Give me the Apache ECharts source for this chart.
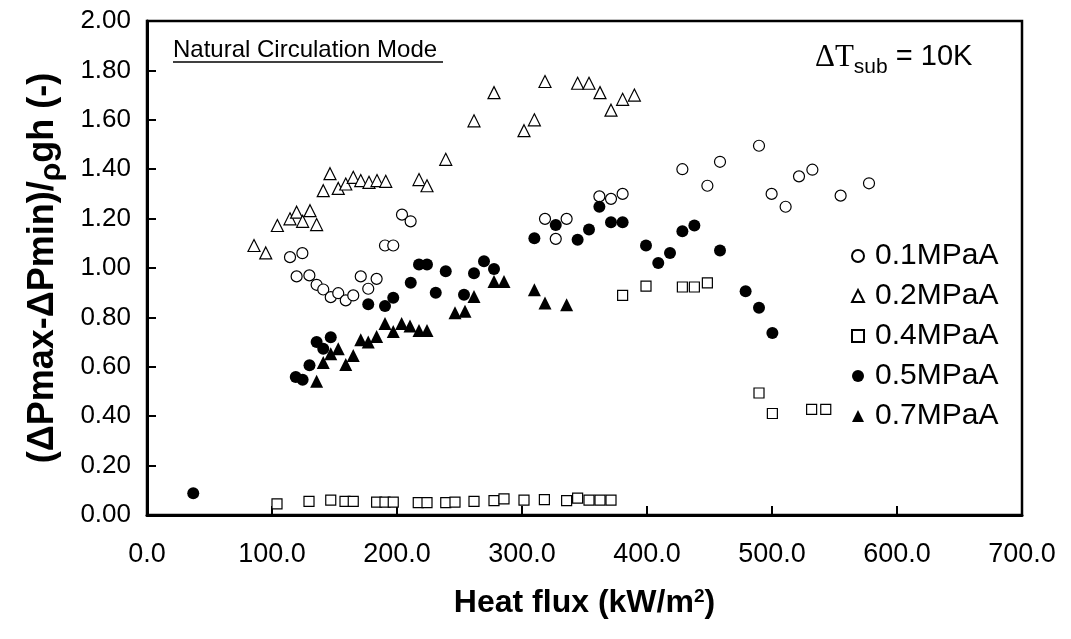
<!DOCTYPE html>
<html>
<head>
<meta charset="utf-8">
<script src="https://cdn.jsdelivr.net/npm/echarts@6/dist/echarts.min.js"></script>
<style>
  html, body { margin: 0; background: #fff; }
  #chart { width: 1071px; height: 639px; }
</style>
</head>
<body>
<div id="chart"></div>
<script>
// heat flux (kW/m2), (dPmax-dPmin)/rho g h
const p01 = [
  [114.4, 1.044], [124.3, 1.06], [119.7, 0.966], [129.9, 0.97], [135.7, 0.932], [141, 0.913],
  [147, 0.882], [153, 0.898], [159, 0.869], [165, 0.889], [171, 0.966], [177, 0.916],
  [183.7, 0.956], [190.4, 1.091], [197, 1.091], [204, 1.216], [210.9, 1.189], [318.4, 1.199],
  [335.7, 1.199], [327, 1.118], [361.9, 1.29], [371.2, 1.28], [380.5, 1.3], [428.3, 1.4],
  [448.3, 1.333], [458.4, 1.43], [489.6, 1.495], [499.7, 1.3], [510.9, 1.248], [521.6, 1.371],
  [532.3, 1.398], [554.9, 1.293], [577.6, 1.343]
]
const p02 = [
  [85.6, 1.091], [95, 1.061], [104.3, 1.172], [114.4, 1.199], [119.7, 1.226], [124.5, 1.189],
  [130.4, 1.232], [135.7, 1.176], [141, 1.313], [146.4, 1.382], [153, 1.322], [159, 1.34],
  [165, 1.367], [171, 1.354], [177.6, 1.347], [184, 1.354], [191, 1.351], [217.6, 1.358],
  [224, 1.333], [239, 1.44], [261.6, 1.596], [277.6, 1.71], [301.6, 1.556], [309.9, 1.6],
  [318.4, 1.755], [344.5, 1.748], [353.6, 1.748], [362.4, 1.71], [371.2, 1.639], [380.5, 1.683],
  [389.9, 1.7]
]
const p04 = [
  [104, 0.045], [129.6, 0.055], [147, 0.06], [158.4, 0.055], [165, 0.055], [183.7, 0.052],
  [190.4, 0.052], [197, 0.052], [217, 0.05], [224, 0.05], [239, 0.05], [246.4, 0.052],
  [261.6, 0.055], [277.6, 0.058], [285.6, 0.065], [301.6, 0.06], [317.9, 0.062], [335.7, 0.058],
  [344.5, 0.068], [353.6, 0.06], [362.4, 0.06], [371.2, 0.06],
  [380.5, 0.889], [399.2, 0.927], [428.3, 0.923], [437.9, 0.923], [448.3, 0.94],
  [489.6, 0.494], [500.3, 0.411], [531.7, 0.428], [543, 0.428]
]
const p05 = [
  [37, 0.088], [119, 0.559], [124.5, 0.548], [130, 0.606], [135.7, 0.7], [141, 0.673],
  [147, 0.72], [177, 0.853], [190.4, 0.846], [197, 0.88], [211, 0.94], [217.6, 1.014],
  [224, 1.014], [231, 0.9], [239, 0.987], [253.6, 0.892], [261.6, 0.979], [269.6, 1.027],
  [277.6, 0.996], [309.9, 1.12], [327, 1.174], [344.5, 1.114], [353.6, 1.156], [361.9, 1.248],
  [371.2, 1.185], [380.5, 1.185], [399.2, 1.091], [409, 1.02], [418.4, 1.061], [428.3, 1.149],
  [437.9, 1.172], [458.4, 1.071], [478.9, 0.906], [489.6, 0.839], [500.3, 0.737]
]
const p07 = [
  [135.7, 0.541], [141, 0.617], [147, 0.653], [153, 0.673], [159, 0.609], [165, 0.646],
  [171, 0.71], [177, 0.7], [183.7, 0.723], [190.4, 0.775], [197, 0.743], [203.7, 0.775],
  [210.4, 0.765], [217.6, 0.747], [224, 0.747], [246.4, 0.819], [254.4, 0.825], [261.6, 0.885],
  [277.6, 0.945], [285.6, 0.945], [309.9, 0.912], [318.4, 0.858], [335.7, 0.851]
]

const seriesNames = ['0.1MPaA', '0.2MPaA', '0.4MPaA', '0.5MPaA', '0.7MPaA']

const font = '"Liberation Sans", Arial, Helvetica, sans-serif'
const open = { color: '#fff', borderColor: '#000', borderWidth: 1.2, opacity: 1 }
const filled = { color: '#000', opacity: 1 }

const chart = echarts.init(document.getElementById('chart'))

chart.setOption({
  animation: false,
  textStyle: { fontFamily: font, color: '#000' },
  grid: {
    left: 147, right: 49, top: 21, bottom: 124,
    show: true, borderColor: '#000', borderWidth: 2.5
  },
  legend: {
    orient: 'vertical',
    left: 846,
    top: 236,
    itemWidth: 12,
    itemHeight: 12,
    itemGap: 10,
    data: seriesNames,
    textStyle: { fontFamily: font, fontSize: 30, color: '#000', lineHeight: 30, padding: [0, 0, 0, 6] }
  },
  xAxis: {
    type: 'value',
    min: 0, max: 700, interval: 100,
    name: '{a|Heat flux (kW/m}{s|2}{a|)}',
    nameLocation: 'middle',
    nameGap: 72,
    nameTextStyle: {
      rich: {
        a: { fontFamily: font, fontSize: 32, fontWeight: 'bold', color: '#000', lineHeight: 36, verticalAlign: 'top' },
        s: { fontFamily: font, fontSize: 19, fontWeight: 'bold', color: '#000', lineHeight: 19, verticalAlign: 'top' }
      }
    },
    axisLine: { onZero: false, lineStyle: { color: '#000', width: 3 } },
    axisTick: { inside: true, length: 9, lineStyle: { color: '#000', width: 2 } },
    splitLine: { show: false },
    axisLabel: {
      margin: 26, fontSize: 27, color: '#000', fontFamily: font,
      formatter: v => v.toFixed(1)
    }
  },
  yAxis: {
    type: 'value',
    min: 0, max: 2, interval: 0.2,
    name: '{a|(ΔPmax-ΔPmin)/}{r|ρ}{a|gh (-)}',
    nameLocation: 'middle',
    nameGap: 82,
    nameTextStyle: {
      rich: {
        a: { fontFamily: font, fontSize: 36, fontWeight: 'bold', color: '#000', lineHeight: 40, verticalAlign: 'top' },
        r: { fontFamily: font, fontSize: 30, fontWeight: 'bold', color: '#000', lineHeight: 32, padding: [12, 0, 0, 0], verticalAlign: 'top' }
      }
    },
    axisLine: { show: true, onZero: false, lineStyle: { color: '#000', width: 3 } },
    axisTick: { show: true, inside: true, length: 9, lineStyle: { color: '#000', width: 2 } },
    splitLine: { show: false },
    axisLabel: {
      margin: 16, fontSize: 26, color: '#000', fontFamily: font,
      formatter: v => v.toFixed(2)
    }
  },
  series: [
    { name: seriesNames[0], type: 'scatter', data: p01, symbol: 'circle', symbolSize: 11, itemStyle: open },
    { name: seriesNames[1], type: 'scatter', data: p02, symbol: 'triangle', symbolSize: 12, itemStyle: open },
    { name: seriesNames[2], type: 'scatter', data: p04, symbol: 'rect', symbolSize: 10, itemStyle: open },
    { name: seriesNames[3], type: 'scatter', data: p05, symbol: 'circle', symbolSize: 12, itemStyle: filled },
    { name: seriesNames[4], type: 'scatter', data: p07, symbol: 'triangle', symbolSize: 13, itemStyle: filled }
  ],
  graphic: [
    {
      type: 'text', left: 173, top: 38,
      style: { text: 'Natural Circulation Mode', font: '24px ' + font, fill: '#000' }
    },
    {
      type: 'line',
      shape: { x1: 173, y1: 62, x2: 443, y2: 62 },
      style: { stroke: '#000', lineWidth: 1.5 }
    },
    {
      type: 'text', left: 815, top: 42,
      style: {
        text: '{d|ΔT}{s|sub}{n| = 10K}',
        rich: {
          d: { fontFamily: '"Liberation Serif", "Times New Roman", serif', fontSize: 31, lineHeight: 32, verticalAlign: 'top', fill: '#000' },
          s: { fontFamily: font, fontSize: 21, lineHeight: 22, padding: [15, 0, 0, 0], verticalAlign: 'top', fill: '#000' },
          n: { fontFamily: font, fontSize: 29, lineHeight: 32, verticalAlign: 'top', fill: '#000' }
        }
      }
    }
  ]
})

window.addEventListener('resize', () => chart.resize())
</script>
</body>
</html>
